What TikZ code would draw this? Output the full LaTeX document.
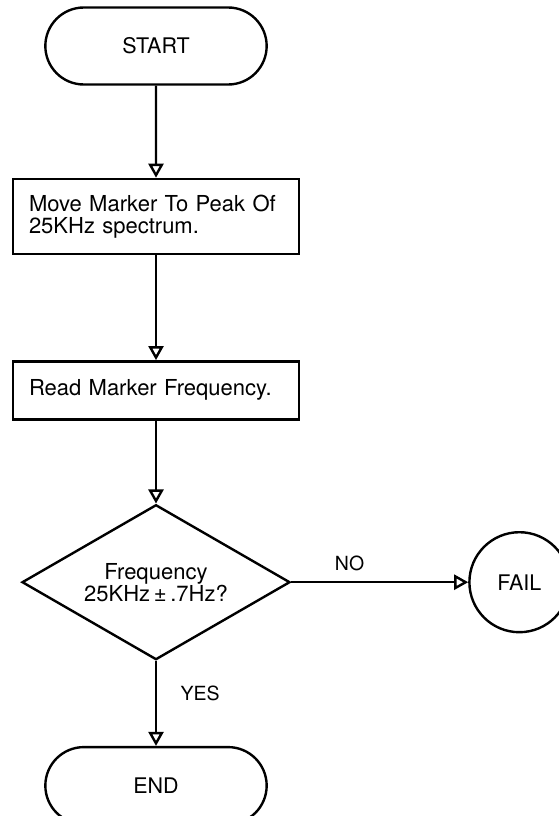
\documentclass[tikz,border=0pt]{standalone}
\usepackage{fontspec}
\setmainfont{TeX Gyre Heros}
\usetikzlibrary{shapes.geometric, shapes.misc, arrows.meta, positioning}

\begin{document}
\begin{tikzpicture}[
        x=1pt, y=-1pt,
        line width=2.4pt,
        terminal/.style={
            draw, rounded rectangle,
            minimum width=228pt,
            minimum height=77pt,
            font=\fontsize{21.5}{22}\selectfont
        },
        task/.style={
            draw, rectangle,
            minimum width=286pt,
            inner xsep=16pt,
            align=left,
            text width=254pt,
            font=\fontsize{22}{22}\selectfont
        },
        decision/.style={
            draw, diamond, aspect=1.73,
            minimum width=268pt,
            minimum height=155pt,
            inner sep=0pt,
            align=center,
            font=\fontsize{22}{22}\selectfont
        },
        stop/.style={
            draw, circle,
            minimum size=100pt,
            font=\fontsize{21.5}{22}\selectfont
        },
        arr/.style={-{Triangle[open, length=14pt, width=15pt]}},
        tag/.style={font=\fontsize{19.5}{22}\selectfont}
    ]
        \useasboundingbox (0,0) rectangle (559,816);
        % Start
        \node[terminal] (start) at (156,46) {START};
        % Move marker
        \node[task, minimum height=75pt, below=92pt of start] (move) {Move Marker To Peak Of\\25KHz spectrum.};
        % Read marker
        \node[task, minimum height=58pt, below=105pt of move] (read) {Read Marker Frequency.};
        % Check
        \node[decision, below=83pt of read] (check) {Frequency\\25KHz\,±\,.7Hz?};
        % Results
        \node[stop, right=177pt of check] (fail) {FAIL};
        \node[terminal, below=85pt of check] (end) {END};
        % Arrows
        \draw[arr] (start) -- (move);
        \draw[arr] (move) -- (read);
        \draw[arr] (read) -- (check);
        \draw[arr] (check.east) -- node[tag, above=7pt, pos=0.33] (no) {NO} (fail.west);
        \draw[arr] (check.south) -- node[tag, right=20pt, pos=0.38] (yes) {YES} (end.north);
    \end{tikzpicture}
\end{document}
